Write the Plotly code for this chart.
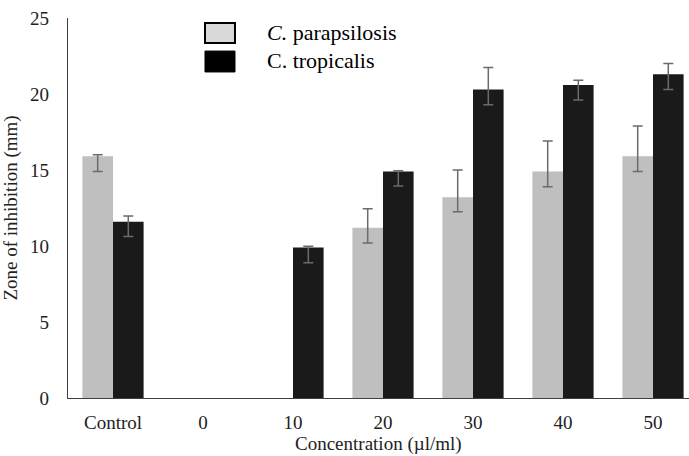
import plotly.graph_objects as go

categories = ["Control", "0", "10", "20", "30", "40", "50"]
parapsilosis = [15.9, None, None, 11.2, 13.2, 14.9, 15.9]
parapsilosis_err_plus = [0.1, None, None, 1.25, 1.8, 2.0, 2.0]
parapsilosis_err_minus = [1.0, None, None, 1.0, 0.95, 1.0, 1.0]
tropicalis = [11.6, None, 9.9, 14.9, 20.3, 20.6, 21.3]
tropicalis_err_plus = [0.37, None, 0.08, 0.05, 1.45, 0.3, 0.7]
tropicalis_err_minus = [0.97, None, 1.0, 0.95, 1.0, 1.0, 1.0]
y_ticks = [0, 5, 10, 15, 20, 25]
series_names = ["<i>C.</i> parapsilosis", "C. tropicalis"]
x_title = "Concentration (µl/ml)"
y_title = "Zone of inhibition (mm)"

FONT = "Times New Roman, Liberation Serif, serif"
ERR_COLOR = "#6b6b6b"

fig = go.Figure()
fig.add_trace(go.Bar(
    x=categories, y=parapsilosis, name="C. parapsilosis",
    marker=dict(color="#bfbfbf", line=dict(width=0)),
    error_y=dict(type="data", symmetric=False, array=parapsilosis_err_plus,
                 arrayminus=parapsilosis_err_minus, color=ERR_COLOR,
                 thickness=1.5, width=5),
    showlegend=False,
))
fig.add_trace(go.Bar(
    x=categories, y=tropicalis, name="C. tropicalis",
    marker=dict(color="#1a1a1a", line=dict(width=0)),
    error_y=dict(type="data", symmetric=False, array=tropicalis_err_plus,
                 arrayminus=tropicalis_err_minus, color=ERR_COLOR,
                 thickness=1.5, width=5),
    showlegend=False,
))

# legend drawn as shapes + text
fig.add_shape(type="rect", xref="paper", yref="paper",
              x0=0.2206, x1=0.2689, y0=0.934, y1=0.987,
              fillcolor="#d9d9d9", line=dict(color="black", width=2))
fig.add_shape(type="rect", xref="paper", yref="paper",
              x0=0.2206, x1=0.2689, y0=0.858, y1=0.913,
              fillcolor="black", line=dict(color="black", width=1))
fig.add_annotation(xref="paper", yref="paper", x=0.317, y=0.963,
                   xanchor="left", yanchor="middle", showarrow=False,
                   text=series_names[0], font=dict(family=FONT, size=22, color="black"))
fig.add_annotation(xref="paper", yref="paper", x=0.317, y=0.887,
                   xanchor="left", yanchor="middle", showarrow=False,
                   text=series_names[1], font=dict(family=FONT, size=22, color="black"))
# x axis title
fig.add_annotation(xref="paper", yref="paper", x=(378 - 68) / 621, y=-0.122,
                   xanchor="center", yanchor="middle", showarrow=False,
                   text=x_title, font=dict(family=FONT, size=19, color="#222222"))

fig.update_layout(
    width=689, height=456,
    margin=dict(l=68, r=0, t=18, b=58),
    paper_bgcolor="white", plot_bgcolor="white",
    barmode="group", bargap=0.32, bargroupgap=0,
    font=dict(family=FONT, size=19, color="#222222"),
    xaxis=dict(
        type="category", range=[-0.5, 6.4],
        showline=True, linecolor="#404040", linewidth=1.2,
        ticks="", showgrid=False, automargin=False,
        ticklabelstandoff=7,
        tickfont=dict(family=FONT, size=19),
    ),
    yaxis=dict(
        range=[0, 25], tickvals=y_ticks,
        showline=True, linecolor="#404040", linewidth=1.2,
        ticks="", showgrid=False, zeroline=False, automargin=False,
        ticklabelstandoff=14,
        title=dict(text=y_title, standoff=12,
                   font=dict(family=FONT, size=19)),
        tickfont=dict(family=FONT, size=19),
    ),
)

fig.write_html("out.html")
